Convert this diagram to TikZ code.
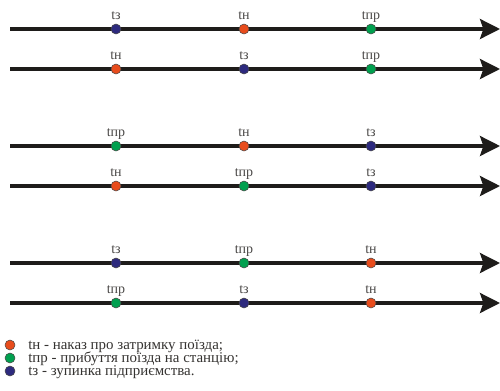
\documentclass[tikz,border=0pt]{standalone}
\usepackage{fontspec}
\setmainfont{Liberation Serif}
\usetikzlibrary{arrows.meta}
\definecolor{cN}{HTML}{E84C1C}
\definecolor{cP}{HTML}{00A04F}
\definecolor{cZ}{HTML}{2D2A7E}
\definecolor{axis}{HTML}{1E1C1A}
\tikzset{
  axisline/.style={draw=axis, line width=2.3pt, -{Stealth[length=15pt, width=15pt, inset=2.5pt]}},
  dotN/.style={circle, fill=cN, draw=axis!80, line width=0.4pt, inner sep=0pt, minimum size=7.5pt},
  dotP/.style={dotN, fill=cP},
  dotZ/.style={dotN, fill=cZ},
  lab/.style={font=\fontsize{10.5}{12}\selectfont, text=axis!80, inner sep=0pt, anchor=base},
  legtext/.style={font=\fontsize{11.2}{13}\selectfont, text=axis!90, inner sep=0pt, anchor=base west, text height=7pt, text depth=1.5pt}
}
\begin{document}
\begin{tikzpicture}[x=0.75pt,y=-0.75pt]
\useasboundingbox (0,0) rectangle (500,390);
\foreach \r/\yy/\a/\b/\c/\la/\lb/\lc in {
  1/29/Z/N/P/{tз}/{tн}/{tпр},
  2/69/N/Z/P/{tн}/{tз}/{tпр},
  3/146/P/N/Z/{tпр}/{tн}/{tз},
  4/186/N/P/Z/{tн}/{tпр}/{tз},
  5/263/Z/P/N/{tз}/{tпр}/{tн},
  6/303/P/Z/N/{tпр}/{tз}/{tн}}{
  \coordinate (s\r) at (10,\yy);
  \coordinate (e\r) at (500,\yy);
  \draw[axisline] (s\r) -- (e\r);
  \node[dot\a] (d\r a) at (116,\yy) {};
  \node[dot\b] (d\r b) at (244,\yy) {};
  \node[dot\c] (d\r c) at (371,\yy) {};
  \node[lab] (l\r a) at ([yshift=7pt]d\r a.center) {\la};
  \node[lab] (l\r b) at ([yshift=7pt]d\r b.center) {\lb};
  \node[lab] (l\r c) at ([yshift=7pt]d\r c.center) {\lc};
}
\node[dotN] (kN) at (10,345) {};
\node[dotP] (kP) at (10,358) {};
\node[dotZ] (kZ) at (10,371) {};
\node[legtext] (tN) at (28,349) {tн - наказ про затримку поїзда;};
\node[legtext] (tP) at (28,362) {tпр - прибуття поїзда на станцію;};
\node[legtext] (tZ) at (28,375) {tз - зупинка підприємства.};
\end{tikzpicture}
\end{document}
